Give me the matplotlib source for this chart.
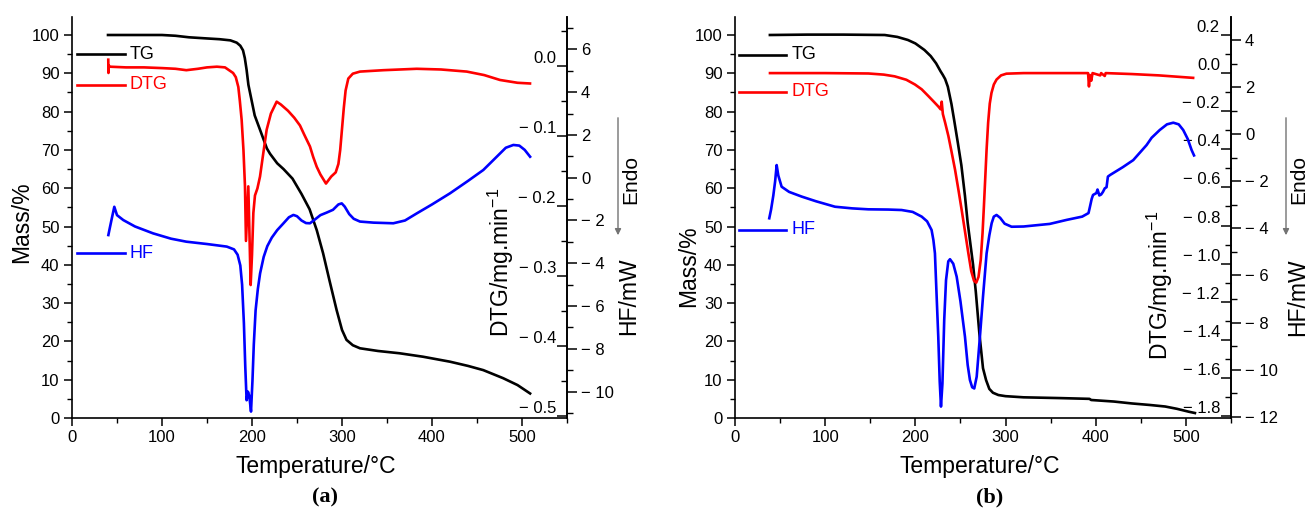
import matplotlib
matplotlib.use("Agg")
import matplotlib.pyplot as plt
from matplotlib.ticker import MultipleLocator, FuncFormatter

plt.rcParams["font.family"] = ["Liberation Sans", "DejaVu Sans"]
plt.rcParams["mathtext.fontset"] = "custom"
plt.rcParams["mathtext.rm"] = "Liberation Sans"
plt.rcParams["mathtext.it"] = "Liberation Sans:italic"
plt.rcParams["mathtext.default"] = "regular"

# ---- panel (a) ----
tg_a_t = [40, 60, 80, 100, 115, 130, 150, 164, 176, 183, 187, 190, 192, 194, 196,
          199.5, 203, 209, 216.5, 220, 228, 235, 245, 255, 264, 272, 279, 286, 294,
          300, 305, 312, 320, 340, 364, 390, 420, 440, 457, 479, 495, 509]
tg_a_m = [100, 100, 100, 100, 99.8, 99.4, 99.1, 98.9, 98.6, 98.0, 97.2, 96, 94, 90.9, 87,
          83, 79, 75.2, 70.4, 69, 66.5, 65, 62.5, 58.5, 54.5, 49, 43, 36, 28.2,
          23, 20.4, 19, 18.2, 17.5, 16.9, 16.0, 14.7, 13.6, 12.5, 10.4, 8.6, 6.4]

dtg_a_t = [40.3, 40.5, 40.8, 42, 60, 80, 100, 115, 127, 140, 150, 161, 170, 179, 182,
           184.8, 186.5, 188.5, 190.5, 192.2, 193.3, 195.9, 197, 198.5, 200, 201.5,
           203.3, 206, 208.9, 212.5, 216.3, 221, 227.4, 232, 240, 247, 253.3, 258,
           264.4, 268, 271.9, 276, 282.2, 288, 293, 296, 298, 300, 302, 304, 307,
           312, 320, 346, 383, 410, 438.6, 458, 475.6, 495, 508.9]
dtg_a_v = [0.009, -0.010, 0.001, -0.001, -0.002, -0.002, -0.003, -0.004, -0.006,
           -0.004, -0.002, -0.001, -0.002, -0.010, -0.016, -0.030, -0.05, -0.077,
           -0.12, -0.172, -0.25, -0.172, -0.23, -0.313, -0.27, -0.21, -0.185,
           -0.175, -0.158, -0.125, -0.091, -0.068, -0.051, -0.055, -0.064, -0.074,
           -0.085, -0.098, -0.115, -0.13, -0.144, -0.155, -0.168, -0.158, -0.152,
           -0.14, -0.12, -0.09, -0.06, -0.035, -0.018, -0.011, -0.008, -0.006,
           -0.004, -0.005, -0.008, -0.013, -0.020, -0.024, -0.025]

hf_a_t = [40.4, 42, 44, 47, 50, 57, 70, 90, 110, 127, 150, 172, 180, 184, 187, 189,
          191, 192.5, 194, 195.5, 197, 198.9, 200.5, 202, 204, 206.5, 209, 213, 217,
          222, 228, 235, 241, 246, 250, 255, 260, 264.4, 270, 276, 283, 290, 296,
          299.7, 303, 308, 313, 320, 335, 357, 370, 383, 400, 420, 440, 457, 470,
          482, 490.4, 497, 503, 509]
hf_a_v = [-2.68, -2.35, -1.95, -1.36, -1.75, -1.98, -2.28, -2.6, -2.85, -2.99, -3.1,
          -3.22, -3.35, -3.6, -4.1, -5.0, -6.8, -8.8, -10.4, -10.0, -10.2, -10.93,
          -9.5, -7.8, -6.2, -5.2, -4.47, -3.7, -3.2, -2.8, -2.45, -2.13, -1.85, -1.74,
          -1.8, -2.0, -2.12, -2.13, -1.95, -1.75, -1.63, -1.5, -1.25, -1.2, -1.35,
          -1.7, -1.92, -2.05, -2.1, -2.13, -2.0, -1.67, -1.25, -0.73, -0.15, 0.36,
          0.9, 1.4, 1.53, 1.5, 1.3, 0.98]

# ---- panel (b) ----
tg_b_t = [38.7, 80, 120, 166, 180, 191.7, 200, 210, 217, 223, 228, 230.4, 233, 236,
          240, 243, 247, 251, 255, 258, 261, 264, 267, 271, 275, 278.4, 282, 286,
          292, 300, 320, 360, 393, 395, 420, 440, 460, 477, 490, 503, 510]
tg_b_m = [100, 100.1, 100.1, 100, 99.5, 98.7, 97.8, 96.1, 94.5, 92.6, 90.5, 89.6,
          88.5, 86.5, 82, 77.8, 72, 66, 58, 51, 45.5, 40, 33, 22, 13, 9.9, 7.6, 6.6,
          6, 5.7, 5.4, 5.2, 5.0, 4.7, 4.3, 3.8, 3.4, 3.0, 2.4, 1.65, 1.3]

dtg_b_t = [38.8, 60, 100, 148, 165, 177, 190, 199.6, 207, 214.3, 220, 225.4, 228,
           229.2, 230.5, 233, 236.6, 240, 244, 248, 251.3, 255, 258.7, 262, 265,
           267.5, 270, 272.5, 274.5, 276, 277.5, 279, 280.7, 282.5, 284.4, 287, 290,
           295, 301, 320, 391.5, 392.5, 393.5, 395, 396.5, 405, 406, 410, 411, 440,
           470, 508]
dtg_b_v = [0.0, 0.0, 0.0, -0.002, -0.008, -0.017, -0.035, -0.06, -0.085, -0.12,
           -0.148, -0.175, -0.19, -0.15, -0.215, -0.26, -0.33, -0.41, -0.507, -0.62,
           -0.717, -0.83, -0.944, -1.04, -1.09, -1.10, -1.07, -0.98, -0.84, -0.7,
           -0.55, -0.4, -0.26, -0.16, -0.104, -0.06, -0.034, -0.012, -0.003, 0.0,
           0.0, -0.07, -0.01, -0.04, 0.0, -0.012, 0.0, -0.015, 0.0, -0.005, -0.012,
           -0.025]

hf_b_t = [38, 40, 42.5, 44.5, 46.2, 48, 51.7, 60, 74, 90, 110.9, 130, 147.8, 170,
          184.8, 197, 207, 213, 218, 220, 221.7, 223.5, 225.4, 227, 228.4, 230, 232,
          234, 236.5, 238.4, 242, 245.8, 250, 255, 258, 260.5, 263, 265.3, 268,
          271.6, 275, 279, 282, 284.6, 287, 290, 294, 299, 306.7, 320, 349, 367.7,
          385, 392, 393.6, 395.5, 397, 400.7, 402, 404, 406, 408, 410, 412, 413.5,
          416, 430, 441.6, 456.4, 462, 471, 479, 486, 492, 497, 502, 506.3, 509]
hf_b_v = [-3.57, -3.2, -2.6, -2.0, -1.31, -1.75, -2.23, -2.45, -2.65, -2.85, -3.08,
          -3.15, -3.19, -3.2, -3.22, -3.3, -3.5, -3.7, -4.07, -4.5, -5.06, -6.8,
          -8.6, -10.5, -11.57, -10.6, -7.89, -6.2, -5.4, -5.31, -5.5, -6.05, -7.1,
          -8.6, -9.8, -10.44, -10.75, -10.8, -10.3, -8.6, -6.9, -5.06, -4.3, -3.78,
          -3.5, -3.43, -3.55, -3.8, -3.93, -3.92, -3.81, -3.64, -3.5, -3.35, -3.08,
          -2.75, -2.58, -2.5, -2.35, -2.6, -2.56, -2.45, -2.3, -2.25, -1.8, -1.73,
          -1.4, -1.1, -0.46, -0.15, 0.18, 0.42, 0.49, 0.42, 0.18, -0.2, -0.67, -0.9]

W, H = 1308, 514
fig = plt.figure(figsize=(W / 100, H / 100), dpi=100)


def fx(px):
    return px / W


def fy(py):
    return 1 - py / H


def fmt(dec):
    def f(v, pos):
        s = f"{abs(v):.{dec}f}"
        return ("\u2212 " + s) if v < -1e-9 else s
    return FuncFormatter(f)


TICK = 12
LAB = 16.5


def panel(left, right, tg, dtg, hf, dtg_lim, dtg_step, hf_lim, leg_x, leg_y):
    ax = fig.add_axes([fx(left), fy(418), fx(right) - fx(left), fy(17) - fy(418)])
    ax.plot(*tg, color="black", lw=1.9, solid_joinstyle="round")
    ax.set_xlim(0, 550)
    ax.set_ylim(0, 104.7)
    ax.xaxis.set_major_locator(MultipleLocator(100))
    ax.xaxis.set_minor_locator(MultipleLocator(50))
    ax.yaxis.set_major_locator(MultipleLocator(10))
    ax.yaxis.set_minor_locator(MultipleLocator(5))
    ax.tick_params(which="major", direction="out", length=6, width=1.1, labelsize=TICK, pad=3)
    ax.tick_params(which="minor", direction="out", length=3.5, width=1.0)
    for s in ("top", "right"):
        ax.spines[s].set_visible(False)
    for s in ("left", "bottom"):
        ax.spines[s].set_linewidth(1.2)

    # legend-like labels next to short line samples
    x0, x1, xt = leg_x
    for y, name, col in zip(leg_y, ["TG", "DTG", "HF"], ["black", "red", "blue"]):
        ax.plot([x0, x1], [y, y], color=col, lw=1.9)
        ax.text(xt, y, name, color=col, fontsize=13, va="center", ha="left")

    a2 = ax.twinx()
    a2.plot(*dtg, color="red", lw=1.9, solid_joinstyle="round")
    a2.set_ylim(*dtg_lim)
    a2.yaxis.set_major_locator(MultipleLocator(dtg_step))
    a2.yaxis.set_minor_locator(MultipleLocator(dtg_step / 2))
    a2.yaxis.set_major_formatter(fmt(1))
    a2.tick_params(which="major", direction="in", length=7, width=1.1, labelsize=TICK, pad=-8)
    a2.tick_params(which="minor", direction="in", length=4, width=1.0)
    for t in a2.yaxis.get_major_ticks():
        t.label2.set_horizontalalignment("right")
        t.label2.set_verticalalignment("bottom")
    for s in ("top", "left", "bottom"):
        a2.spines[s].set_visible(False)
    a2.spines["right"].set_linewidth(1.2)

    a3 = ax.twinx()
    a3.plot(*hf, color="blue", lw=1.9, solid_joinstyle="round")
    a3.set_ylim(*hf_lim)
    a3.yaxis.set_major_locator(MultipleLocator(2))
    a3.yaxis.set_minor_locator(MultipleLocator(1))
    a3.yaxis.set_major_formatter(fmt(0))
    a3.tick_params(which="major", direction="out", length=7, width=1.1, labelsize=TICK, pad=3)
    a3.tick_params(which="minor", direction="out", length=4, width=1.0)
    for s in ("top", "left", "bottom"):
        a3.spines[s].set_visible(False)
    a3.spines["right"].set_linewidth(1.2)
    return ax


panel(72, 567, (tg_a_t, tg_a_m), (dtg_a_t, dtg_a_v), (hf_a_t, hf_a_v),
      (-0.503, 0.07), 0.1, (-11.23, 7.51), (6, 59, 64), (95, 87, 43))
panel(735, 1231, (tg_b_t, tg_b_m), (dtg_b_t, dtg_b_v), (hf_b_t, hf_b_v),
      (-1.8105, 0.2945), 0.2, (-12.055, 4.98), (4, 57, 63), (94.8, 85.2, 49.1))

# axis titles and captions
for xm, ym, xd, yd, xh, yh, xe, xt, cap, xc in [
        (22, 222, 501, 262, 629, 296, 618, 316, "(a)", 325),
        (689, 266, 1160, 285, 1298, 297, 1286, 980, "(b)", 990)]:
    fig.text(fx(xm), fy(ym), "Mass/%", rotation=90, ha="center", va="center", fontsize=LAB)
    fig.text(fx(xd), fy(yd), "DTG/mg.min$^{-1}$", rotation=90, ha="center", va="center",
             fontsize=LAB)
    fig.text(fx(xh), fy(yh), "HF/mW", rotation=90, ha="center", va="center", fontsize=LAB)
    fig.text(fx(xe + 13), fy(179), "Endo", rotation=90, ha="center", va="center",
             fontsize=LAB - 1.5)
    fig.text(fx(xt), fy(466), "Temperature/\u00b0C", ha="center", va="center", fontsize=LAB)
    fig.text(fx(xc), fy(497), cap, ha="center", va="center", fontsize=16,
             fontweight="bold", family="Liberation Serif")
    fig.add_artist(matplotlib.patches.FancyArrowPatch(
        (fx(xe), fy(115)), (fx(xe), fy(238)), transform=fig.transFigure,
        arrowstyle="-|>", mutation_scale=9, color="0.45", lw=1.0))

fig.savefig("out.png", dpi=100)
